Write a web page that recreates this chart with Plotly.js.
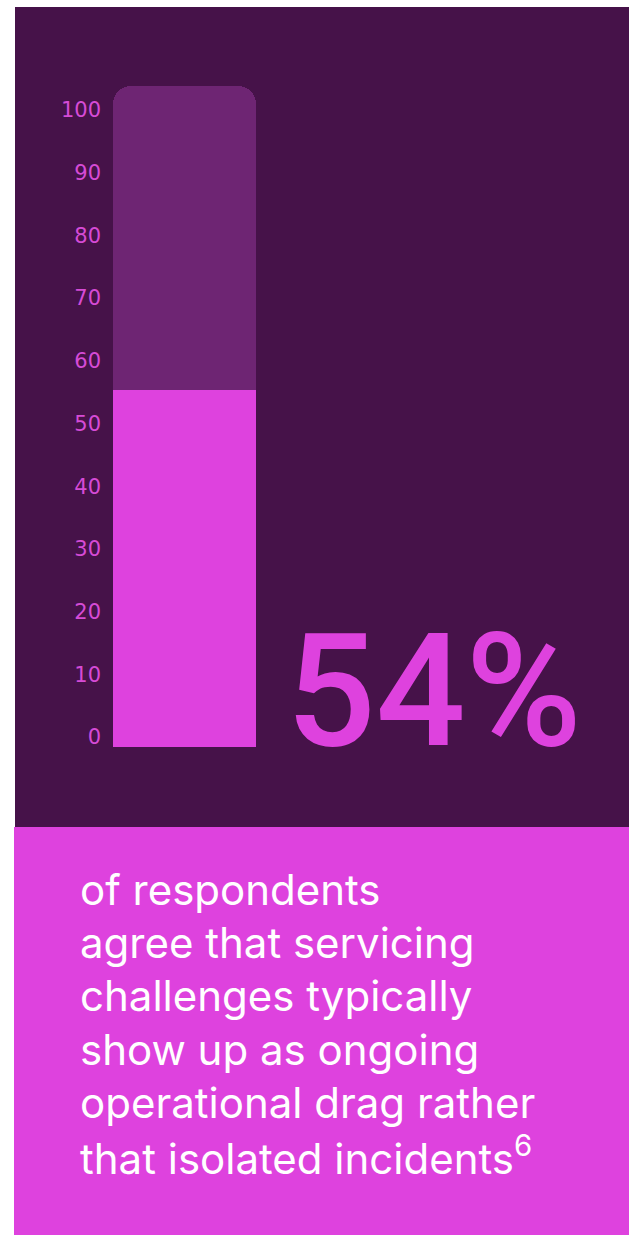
<!DOCTYPE html>
<html>
<head>
<meta charset="utf-8">
<script src="https://cdn.plot.ly/plotly-3.0.1.min.js"></script>
<style>html,body{margin:0;padding:0;background:#fff;}#chart{width:632px;height:1235px;}</style>
</head>
<body>
<div id="chart"></div>
<script>
// ---- data ----
var categories = ["respondents"];
var shareAgree = [54];
var scaleMax = [100];
var tickValues = [0, 10, 20, 30, 40, 50, 60, 70, 80, 90, 100];
var tickLabels = ["0", "10", "20", "30", "40", "50", "60", "70", "80", "90", "100"];
var headline = "54%";
var captionLines = [
  "of respondents",
  "agree that servicing",
  "challenges typically",
  "show up as ongoing",
  "operational drag rather",
  "that isolated incidents<sup>6</sup>"
];

// ---- styling ----
var W = 632, H = 1235;
var DARK = "#461249", TRACK = "#6E2573", MAG = "#DE42DE", TICK = "#D64BD6";
function px(y) { return 1 - y / H; }

var traces = [
  {type: "bar", x: categories, y: scaleMax, xaxis: "x", yaxis: "y2",
   marker: {color: TRACK, cornerradius: 18, line: {width: 0}}, hoverinfo: "skip"},
  {type: "bar", x: categories, y: shareAgree, xaxis: "x", yaxis: "y2",
   marker: {color: MAG, line: {width: 0}}, hoverinfo: "skip"},
  // invisible carrier so the tick-label axis is drawn
  {type: "scatter", mode: "markers", x: tickValues.map(function () { return categories[0]; }),
   y: tickValues, xaxis: "x", yaxis: "y", marker: {opacity: 0, size: 1}, hoverinfo: "skip"}
];

var annotations = [{
  xref: "paper", yref: "paper", x: 284 / W, y: px(691), xanchor: "left", yanchor: "middle",
  text: headline, showarrow: false,
  font: {family: "Roboto, sans-serif", size: 158, weight: 500, color: MAG}
}];
captionLines.forEach(function (t, i) {
  annotations.push({
    xref: "paper", yref: "paper", x: 78 / W, y: px(889 + i * 53.4), xanchor: "left", yanchor: "middle",
    text: t, showarrow: false, align: "left",
    font: {family: "Inter, sans-serif", size: 42, color: "#ffffff"}
  });
});

var layout = {
  width: W, height: H,
  margin: {l: 0, r: 0, t: 0, b: 0},
  paper_bgcolor: "#ffffff", plot_bgcolor: "rgba(0,0,0,0)",
  showlegend: false, barmode: "overlay", bargap: 0,
  xaxis: {domain: [113 / W, 256 / W], range: [-0.5, 0.5], visible: false, fixedrange: true},
  yaxis2: {domain: [px(747), px(86)], range: [0, 100], visible: false, anchor: "x"},
  yaxis: {domain: [px(737), px(110)], range: [0, 100], anchor: "free", position: 101 / W,
          tickvals: tickValues, ticktext: tickLabels, ticks: "", showgrid: false, zeroline: false,
          showline: false, showticklabels: true, visible: true,
          tickfont: {family: "DejaVu Sans, sans-serif", size: 21, color: TICK}},
  shapes: [
    {type: "rect", xref: "paper", yref: "paper", x0: 15 / W, x1: 629 / W, y0: px(827), y1: px(7),
     fillcolor: DARK, line: {width: 0}, layer: "below"},
    {type: "rect", xref: "paper", yref: "paper", x0: 14 / W, x1: 629 / W, y0: px(1235), y1: px(827),
     fillcolor: MAG, line: {width: 0}, layer: "below"}
  ],
  annotations: annotations
};

Plotly.newPlot("chart", traces, layout, {staticPlot: true, displayModeBar: false});
</script>
</body>
</html>
